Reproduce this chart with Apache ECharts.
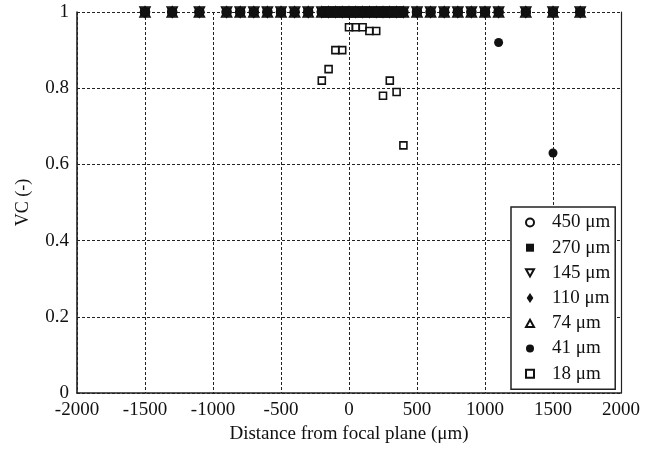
<!DOCTYPE html>
<html>
<head>
<meta charset="utf-8">
<script src="https://cdn.jsdelivr.net/npm/echarts@6/dist/echarts.min.js"></script>
<style>
  html, body { margin: 0; padding: 0; background: #fff; }
  #chart { width: 654px; height: 453px; }
</style>
</head>
<body>
<div id="chart"></div>
<script>
// Visibility contrast (VC) versus distance from the focal plane, per particle size.
const seriesNames = ['450 \u03bcm', '270 \u03bcm', '145 \u03bcm', '110 \u03bcm', '74 \u03bcm', '41 \u03bcm', '18 \u03bcm'];

const x450 = [-1500, -1300, -1100, -900, -800, -700, -600, -500, -400, -300, -200, -150, -100, -50, 0, 50, 100, 150, 200, 250, 300, 350, 400, 500, 600, 700, 800, 900, 1000, 1100, 1300, 1500, 1700];
const vc450 = [1, 1, 1, 1, 1, 1, 1, 1, 1, 1, 1, 1, 1, 1, 1, 1, 1, 1, 1, 1, 1, 1, 1, 1, 1, 1, 1, 1, 1, 1, 1, 1, 1];

const x270 = [-1500, -1300, -1100, -900, -800, -700, -600, -500, -400, -300, -200, -150, -100, -50, 0, 50, 100, 150, 200, 250, 300, 350, 400, 500, 600, 700, 800, 900, 1000, 1100, 1300, 1500, 1700];
const vc270 = [1, 1, 1, 1, 1, 1, 1, 1, 1, 1, 1, 1, 1, 1, 1, 1, 1, 1, 1, 1, 1, 1, 1, 1, 1, 1, 1, 1, 1, 1, 1, 1, 1];

const x145 = [-1500, -1300, -1100, -900, -800, -700, -600, -500, -400, -300, -200, -150, -100, -50, 0, 50, 100, 150, 200, 250, 300, 350, 400, 500, 600, 700, 800, 900, 1000, 1100, 1300, 1500, 1700];
const vc145 = [1, 1, 1, 1, 1, 1, 1, 1, 1, 1, 1, 1, 1, 1, 1, 1, 1, 1, 1, 1, 1, 1, 1, 1, 1, 1, 1, 1, 1, 1, 1, 1, 1];

const x110 = [-1500, -1300, -1100, -900, -800, -700, -600, -500, -400, -300, -200, -150, -100, -50, 0, 50, 100, 150, 200, 250, 300, 350, 400, 500, 600, 700, 800, 900, 1000, 1100, 1300, 1500, 1700];
const vc110 = [1, 1, 1, 1, 1, 1, 1, 1, 1, 1, 1, 1, 1, 1, 1, 1, 1, 1, 1, 1, 1, 1, 1, 1, 1, 1, 1, 1, 1, 1, 1, 1, 1];

const x74 = [-1500, -1300, -1100, -900, -800, -700, -600, -500, -400, -300, -200, -150, -100, -50, 0, 50, 100, 150, 200, 250, 300, 350, 400, 500, 600, 700, 800, 900, 1000, 1100, 1300, 1500, 1700];
const vc74 = [1, 1, 1, 1, 1, 1, 1, 1, 1, 1, 1, 1, 1, 1, 1, 1, 1, 1, 1, 1, 1, 1, 1, 1, 1, 1, 1, 1, 1, 1, 1, 1, 1];

const x41 = [-1500, -1300, -1100, -900, -800, -700, -600, -500, -400, -300, -200, -150, -100, -50, 0, 50, 100, 150, 200, 250, 300, 350, 400, 500, 600, 700, 800, 900, 1000, 1100, 1500];
const vc41 = [1, 1, 1, 1, 1, 1, 1, 1, 1, 1, 1, 1, 1, 1, 1, 1, 1, 1, 1, 1, 1, 1, 1, 1, 1, 1, 1, 1, 1, 0.92, 0.63];

const x18 = [-200, -150, -100, -50, 0, 50, 100, 150, 200, 250, 300, 350, 400];
const vc18 = [0.82, 0.85, 0.90, 0.90, 0.96, 0.96, 0.96, 0.95, 0.95, 0.78, 0.82, 0.79, 0.65];

const FONT = '"Liberation Serif", "Times New Roman", serif';
const INK = '#111';
const TRI_DOWN = 'path://M0,0L10,0L5,9Z';
const TRI_UP = 'path://M5,0L10,9L0,9Z';
const SQUARE = 'path://M0,0L10,0L10,10L0,10Z';
const DIAMOND = 'path://M4,0L8,6L4,12L0,6Z';

function pairs(xs, ys) {
  return xs.map((x, i) => [x, ys[i]]);
}

function scatter(name, xs, ys, symbol, size, filled) {
  return {
    type: 'scatter',
    name: name,
    data: pairs(xs, ys),
    symbol: symbol,
    symbolSize: size,
    itemStyle: filled
      ? { color: INK, opacity: 1 }
      : { color: 'rgba(255,255,255,0)', borderColor: INK, borderWidth: 1.6, opacity: 1 },
    emphasis: { disabled: true },
    silent: true
  };
}

const chart = echarts.init(document.getElementById('chart'), null, { renderer: 'canvas' });

chart.setOption({
  animation: false,
  backgroundColor: '#fff',
  textStyle: { fontFamily: FONT, color: INK },
  grid: { left: 77, right: 33, top: 12, bottom: 60 },
  xAxis: {
    type: 'value',
    min: -2000,
    max: 2000,
    interval: 500,
    name: 'Distance from focal plane (\u03bcm)',
    nameLocation: 'middle',
    nameGap: 30,
    nameTextStyle: { fontFamily: FONT, fontSize: 19, color: INK },
    axisLine: { show: true, onZero: false, lineStyle: { color: '#222', width: 1.6 } },
    axisTick: { show: false },
    axisLabel: { fontFamily: FONT, fontSize: 19, color: INK, margin: 8, formatter: v => String(v) },
    splitLine: { show: true, lineStyle: { color: '#222', width: 1, type: [3, 2] } }
  },
  yAxis: [{
    type: 'value',
    min: 0,
    max: 1,
    interval: 0.2,
    name: 'VC (-)',
    nameLocation: 'middle',
    nameGap: 45,
    nameTextStyle: { fontFamily: FONT, fontSize: 18, color: INK },
    axisLine: { show: true, onZero: false, lineStyle: { color: '#222', width: 1.6 } },
    axisTick: { show: false },
    axisLabel: { fontFamily: FONT, fontSize: 19, color: INK, margin: 8 },
    splitLine: { show: true, lineStyle: { color: '#222', width: 1, type: [3, 2] } }
  }, {
    type: 'value',
    min: 0,
    max: 1,
    position: 'right',
    axisLine: { show: true, onZero: false, lineStyle: { color: '#222', width: 1.2 } },
    axisTick: { show: false },
    axisLabel: { show: false },
    splitLine: { show: false }
  }],
  legend: {
    orient: 'vertical',
    left: 511,
    top: 207,
    data: [
      { name: seriesNames[0], icon: 'circle' },
      { name: seriesNames[1], icon: SQUARE },
      { name: seriesNames[2], icon: TRI_DOWN },
      { name: seriesNames[3], icon: DIAMOND },
      { name: seriesNames[4], icon: TRI_UP },
      { name: seriesNames[5], icon: 'circle' },
      { name: seriesNames[6], icon: SQUARE }
    ],
    symbolKeepAspect: true,
    itemWidth: 8,
    itemHeight: 10,
    itemGap: 6.2,
    padding: [6, 5, 6, 14],
    backgroundColor: '#fff',
    borderColor: '#222',
    borderWidth: 1.5,
    borderRadius: 0,
    selectedMode: false,
    textStyle: { fontFamily: FONT, fontSize: 19, lineHeight: 19, color: INK, padding: [0, 0, 0, 13] }
  },
  series: [
    scatter(seriesNames[0], x450, vc450, 'circle', 9, false),
    scatter(seriesNames[1], x270, vc270, 'rect', 9, true),
    scatter(seriesNames[2], x145, vc145, TRI_DOWN, 10, false),
    scatter(seriesNames[3], x110, vc110, 'diamond', [10, 12], true),
    scatter(seriesNames[4], x74, vc74, TRI_UP, 10, false),
    scatter(seriesNames[5], x41, vc41, 'circle', 9, true),
    scatter(seriesNames[6], x18, vc18, 'rect', 7, false)
  ]
});
</script>
</body>
</html>
